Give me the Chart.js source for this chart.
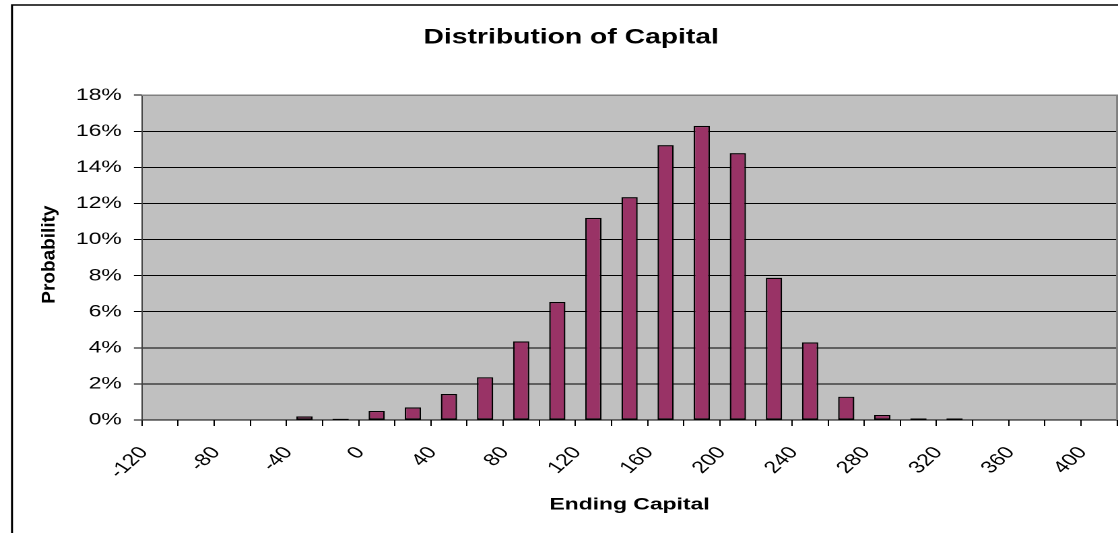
<!DOCTYPE html>
<html>
<head>
<meta charset="utf-8">
<title>Distribution of Capital</title>
<script src="https://cdn.jsdelivr.net/npm/chart.js@4.4.1/dist/chart.umd.min.js"></script>
<style>
  html, body { margin: 0; padding: 0; background: #fff; overflow: hidden; }
  #wrap { width: 1118px; height: 533px; overflow: hidden; }
  /* the chart is laid out narrow and widened, like the spreadsheet export */
  #capitalChart { transform: scaleX(1.347); transform-origin: 0 0; }
</style>
</head>
<body>
<div id="wrap"><canvas id="capitalChart" width="830" height="533"></canvas></div>
<script>
const STRETCH = 1.347;

const capitalBins = [
    "-120", "-100", "-80", "-60", "-40", "-20", "0", "20", "40",
    "60", "80", "100", "120", "140", "160", "180", "200", "220",
    "240", "260", "280", "300", "320", "340", "360", "380", "400"
];

// probability of each ending-capital bin, in percent
const probability = [
    0, 0, 0, 0, 0.2, 0.07, 0.5, 0.7, 1.44,
    2.37, 4.36, 6.54, 11.2, 12.35, 15.23, 16.3, 14.79, 7.88,
    4.3, 1.29, 0.28, 0.08, 0.08, 0, 0, 0, 0
];

const probabilityTicks = [0, 2, 4, 6, 8, 10, 12, 14, 16, 18];

const FONT = "Arial, 'Liberation Sans', sans-serif";

// grey plot area, its outline and the outer chart frame
const chartFrame = {
    id: "chartFrame",
    beforeDraw(chart) {
        const { ctx, chartArea: a } = chart;
        ctx.save();
        ctx.fillStyle = "#c0c0c0";
        ctx.fillRect(a.left, a.top, a.right - a.left, a.bottom - a.top);
        ctx.strokeStyle = "#000";
        ctx.lineWidth = 1.5;
        ctx.strokeRect(8.9, 5, 2000, 2000);
        ctx.restore();
    },
    afterDatasetsDraw(chart) {
        const { ctx, chartArea: a } = chart;
        ctx.save();
        ctx.strokeStyle = "#808080";
        ctx.lineWidth = 1.5;
        ctx.beginPath();
        ctx.moveTo(a.left, a.top);
        ctx.lineTo(a.right, a.top);
        ctx.lineTo(a.right, a.bottom);
        ctx.stroke();
        ctx.restore();
    }
};

// vertical axis title, squeezed back so it is not widened with the rest
const yAxisTitle = {
    id: "yAxisTitle",
    afterDraw(chart) {
        const { ctx, chartArea: a } = chart;
        ctx.save();
        ctx.translate(36.4, (a.top + a.bottom) / 2 - 3);
        ctx.scale(1 / STRETCH, 1);
        ctx.rotate(-Math.PI / 2);
        ctx.fillStyle = "#000";
        ctx.font = "bold 19px " + FONT;
        ctx.textAlign = "center";
        ctx.textBaseline = "middle";
        ctx.fillText("Probability", 0, 0);
        ctx.restore();
    }
};

new Chart(document.getElementById("capitalChart"), {

    type: "bar",

    data: {
        labels: capitalBins,
        datasets: [{
            label: "Probability",
            data: probability,
            backgroundColor: "#993366",
            borderColor: "#000",
            borderWidth: 1.2,
            borderSkipped: false,
            categoryPercentage: 1,
            barPercentage: 0.45
        }]
    },

    options: {
        responsive: false,
        animation: false,
        devicePixelRatio: 2,

        layout: {
            padding: { left: 18.8, right: 0.7, top: 0, bottom: 0 }
        },

        plugins: {
            legend: { display: false },
            tooltip: { enabled: false },
            title: {
                display: true,
                text: "Distribution of Capital",
                color: "#000",
                font: { family: FONT, size: 21, weight: "bold" },
                padding: { top: 25, bottom: 45 }
            }
        },

        scales: {
            x: {
                afterFit(scale) {
                    scale.height = 113;
                    // rotated labels must not shrink the plot sideways
                    scale.paddingLeft = 0;
                    scale.paddingRight = 0;
                },
                grid: {
                    offset: true,
                    drawOnChartArea: false,
                    color: "#000",
                    tickLength: 6
                },
                border: { display: true, color: "#000", width: 1 },
                ticks: {
                    autoSkip: false,
                    maxRotation: 50,
                    minRotation: 50,
                    labelOffset: -12,
                    padding: 17,
                    color: "#000",
                    font: { family: FONT, size: 17 },
                    callback: (value, index) => index % 2 === 0 ? capitalBins[index] : ""
                },
                title: {
                    display: true,
                    text: "Ending Capital",
                    color: "#000",
                    font: { family: FONT, size: 17, weight: "bold" },
                    padding: { top: 0, bottom: 18 }
                }
            },

            y: {
                min: 0,
                max: 18,
                afterFit(scale) { scale.width = 86.6; },
                afterBuildTicks(scale) {
                    scale.ticks = probabilityTicks.map(v => ({ value: v }));
                },
                grid: {
                    color: ctx => ctx.tick && ctx.tick.value === 18 ? "#808080" : "#000",
                    tickColor: "#000",
                    tickLength: 6
                },
                border: { display: true, color: "#404040", width: 1 },
                ticks: {
                    padding: 9,
                    color: "#000",
                    font: { family: FONT, size: 17 },
                    callback: value => value + "%"
                }
            }
        }
    },

    plugins: [chartFrame, yAxisTitle]

});
</script>
</body>
</html>
